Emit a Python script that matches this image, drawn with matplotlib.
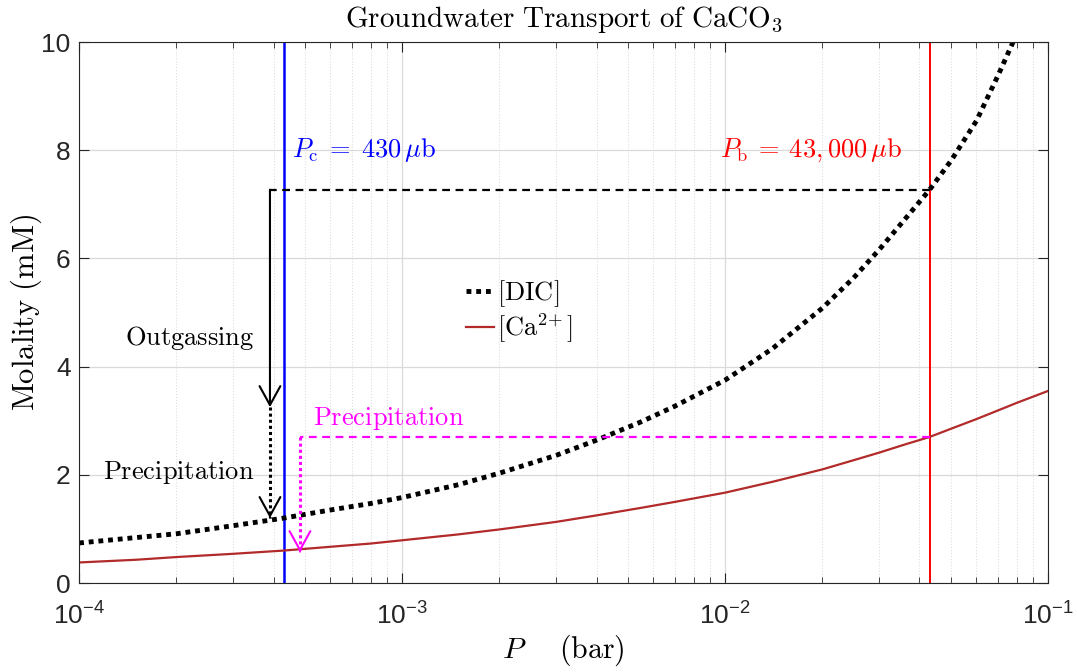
import numpy as np
import matplotlib
matplotlib.use("Agg")
import matplotlib.pyplot as plt
from matplotlib.ticker import LogLocator, NullFormatter

plt.rcParams['font.family'] = ['Liberation Sans', 'DejaVu Sans']

# pressure (bar) and molalities (mM)
p_dic = [1e-4, 1.5e-4, 2e-4, 3e-4, 4.3e-4, 6e-4, 8e-4, 1e-3, 1.5e-3, 2e-3, 3e-3,
         4e-3, 5.5e-3, 7e-3, 1e-2, 1.4e-2, 2e-2, 2.5e-2, 3e-2, 3.6e-2, 4.3e-2,
         5e-2, 6e-2, 7e-2, 8e-2]
dic = [0.74, 0.84, 0.91, 1.06, 1.20, 1.35, 1.47, 1.58, 1.82, 2.03, 2.36,
       2.64, 2.98, 3.27, 3.75, 4.33, 5.08, 5.64, 6.16, 6.72, 7.27,
       7.80, 8.54, 9.38, 10.15]

p_ca = [1e-4, 1.5e-4, 2e-4, 3e-4, 4.3e-4, 6e-4, 8e-4, 1e-3, 1.5e-3, 2e-3, 3e-3,
        4e-3, 5.5e-3, 7e-3, 1e-2, 1.4e-2, 2e-2, 2.5e-2, 3e-2, 3.6e-2, 4.3e-2,
        5e-2, 6e-2, 7e-2, 8e-2, 1e-1]
ca = [0.38, 0.43, 0.48, 0.54, 0.60, 0.67, 0.73, 0.79, 0.90, 0.99, 1.13,
      1.25, 1.39, 1.50, 1.67, 1.87, 2.10, 2.27, 2.41, 2.56, 2.70,
      2.85, 3.03, 3.19, 3.33, 3.55]

P_c = 4.3e-4
P_b = 4.3e-2
dic_b = 7.27
ca_b = 2.70

# outgassing / precipitation paths
p_out = 3.9e-4
out_arrow = 3.25
dic_c = 1.20
p_prec = 4.83e-4
ca_c = 0.57

ytick_vals = [0, 2, 4, 6, 8, 10]

fig = plt.figure(figsize=(10.77, 6.72), dpi=100)
ax = fig.add_axes([0.0734, 0.1324, 0.8997, 0.8051])

ax.set_xscale('log')
ax.set_xlim(1e-4, 1e-1)
ax.set_ylim(0, 10)
ax.set_yticks(ytick_vals)
ax.xaxis.set_minor_locator(LogLocator(base=10, subs=np.arange(2, 10)))
ax.xaxis.set_minor_formatter(NullFormatter())

ax.grid(True, which='major', color='#d9d9d9', lw=0.9)
ax.grid(True, which='minor', axis='x', color='#dddddd', lw=0.8, ls=':')
ax.set_axisbelow(True)
ax.tick_params(which='both', direction='in', top=True, right=True,
               labelsize=19, colors='#262626')
ax.tick_params(axis='x', pad=14)
ax.tick_params(axis='y', pad=6)
ax.tick_params(which='major', length=7)
ax.tick_params(which='minor', length=4)
for s in ax.spines.values():
    s.set_color('#262626')
    s.set_linewidth(0.8)

ax.axvline(P_c, color='#0000ff', lw=1.8)
ax.axvline(P_b, color='#ff0000', lw=1.4)

ax.plot(p_dic, dic, color='k', lw=3.5, dashes=(1, 1), dash_capstyle='butt',
        label=r'$[\mathrm{DIC}]$')
ax.plot(p_ca, ca, color='#b22a2a', lw=1.6, label=r'$[\mathrm{Ca}^{2\!+}]$')

# outgassing path
ax.plot([P_b, p_out], [dic_b, dic_b], color='k', lw=1.6, dashes=(3.5, 2.5))
head = dict(arrowstyle='->,head_length=0.4,head_width=0.22', mutation_scale=34,
            lw=1.5, shrinkA=0, shrinkB=0)
ax.annotate('', xy=(p_out, out_arrow), xytext=(p_out, dic_b),
            arrowprops=dict(head, color='k'))
ax.plot([p_out, p_out], [out_arrow, dic_c], color='k', lw=2.2, dashes=(1, 1))
ax.annotate('', xy=(p_out, dic_c), xytext=(p_out, dic_c + 0.02),
            arrowprops=dict(head, color='k'))

# precipitation path
ax.plot([P_b, p_prec], [ca_b, ca_b], color='#ff00ff', lw=1.6, dashes=(3.5, 2.5))
ax.plot([p_prec, p_prec], [ca_b, ca_c], color='#ff00ff', lw=2.2, dashes=(1, 1))
ax.annotate('', xy=(p_prec, ca_c), xytext=(p_prec, ca_c + 0.02),
            arrowprops=dict(head, color='#ff00ff'))

cm = dict(math_fontfamily='cm', fontsize=19)
ax.text(4.57e-4, 8.0, r'$P_\mathrm{c}\;=\;430\,\mu\mathrm{b}$', color='#0000ff',
        ha='left', va='center', **cm)
ax.text(0.0353, 8.0, r'$P_\mathrm{b}\:=\:43,000\,\mu\mathrm{b}$', color='#ff0000',
        ha='right', va='center', **cm)
ax.text(3.48e-4, 4.53, r'$\mathrm{Outgassing}$', color='k',
        ha='right', va='center', **cm)
ax.text(3.48e-4, 2.05, r'$\mathrm{Precipitation}$', color='k',
        ha='right', va='center', **cm)
ax.text(5.3e-4, 3.05, r'$\mathrm{Precipitation}$', color='#ff00ff',
        ha='left', va='center', **cm)

leg = ax.legend(loc='upper left', bbox_to_anchor=(0.386, 0.587), frameon=False,
                fontsize=19, handlelength=1.05, handletextpad=0.12,
                labelspacing=0.1, borderpad=0)
for t in leg.get_texts():
    t.set_math_fontfamily('cm')

ax.set_title(r'$\mathrm{Groundwater\ Transport\ of\ CaCO_3}$',
             math_fontfamily='cm', fontsize=21, pad=11)
ax.set_xlabel(r'$P\quad\;\,\mathrm{(bar)}$', math_fontfamily='cm', fontsize=21.5,
              labelpad=2)
ax.set_ylabel(r'$\mathrm{Molality\ (mM)}$', math_fontfamily='cm', fontsize=22)
ax.yaxis.set_label_coords(-0.036, 0.5)

fig.savefig('out.png', dpi=100)
